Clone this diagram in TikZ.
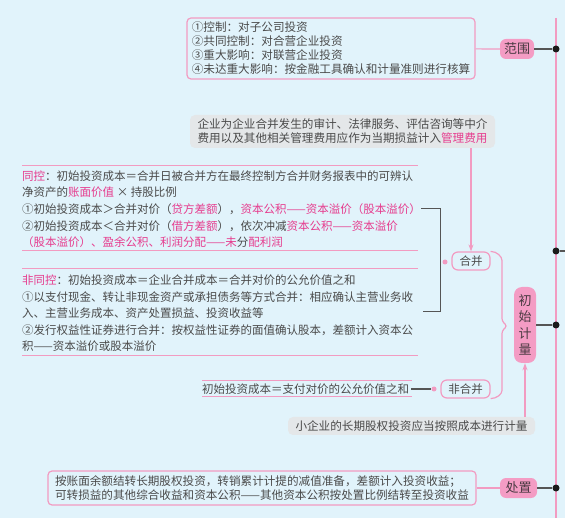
\documentclass[tikz,border=0pt]{standalone}
\usepackage{fontspec}
\setmainfont{Noto Sans CJK SC}
\usetikzlibrary{arrows.meta}
\XeTeXinterchartokenstate=1
\newcommand\cjkglue{\hskip 0pt plus 1pt\relax}
\XeTeXinterchartoks 1 1 = {\cjkglue}
\XeTeXinterchartoks 1 2 = {\cjkglue}
\XeTeXinterchartoks 1 3 = {\cjkglue}
\XeTeXinterchartoks 2 1 = {\cjkglue}
\XeTeXinterchartoks 3 1 = {\cjkglue}
\XeTeXinterchartoks 3 2 = {\cjkglue}
\XeTeXinterchartoks 3 3 = {\cjkglue}
\XeTeXinterchartoks 0 1 = {\cjkglue}
\XeTeXinterchartoks 1 0 = {\cjkglue}
\definecolor{bg}{HTML}{E1F3FB}
\definecolor{pline}{HTML}{F29BC1}
\definecolor{pfill}{HTML}{F49CC4}
\definecolor{ptext}{HTML}{E63C8E}
\definecolor{gboxc}{HTML}{E4E7E9}
\definecolor{dlinec}{HTML}{555555}
\definecolor{dotc}{HTML}{1A1A1A}
\definecolor{tgray}{HTML}{4A4A4A}
\definecolor{tagtext}{HTML}{4A3A42}
\tikzset{
  pl/.style={draw=pline, line width=1.2pt},
  plt/.style={draw=pline, line width=1pt},
  dline/.style={draw=dlinec, line width=1.1pt},
  parrow/.style={draw=pline, line width=1.2pt, -{Stealth[length=7pt,width=5pt]}},
  blackdot/.style={circle, fill=dotc, inner sep=0pt, minimum size=7pt},
  pdot/.style={circle, fill=pline, inner sep=0pt, minimum size=5pt},
  tag/.style={fill=pfill, rounded corners=6pt, inner sep=0pt, text=tagtext, font=\fontsize{13}{15}\selectfont},
  otag/.style={draw=pline, line width=1.2pt, fill=bg, rounded corners=6pt, inner sep=0pt, text=tgray, font=\fontsize{11.5}{14}\selectfont},
  pbox/.style={draw=pline, line width=1.2pt, fill=bg, rounded corners=4pt, inner sep=0pt, text=tgray, font=\fontsize{11.6}{14}\selectfont},
  gbox/.style={fill=gboxc, rounded corners=5pt, inner sep=0pt, text=tgray, font=\fontsize{11.6}{14}\selectfont},
  btxt/.style={anchor=west, inner sep=0pt, text=tgray, font=\fontsize{11.5}{14}\selectfont},
}
\newcommand\jline[1]{\makebox[396pt][s]{#1}}
\begin{document}
\begin{tikzpicture}[x=1pt,y=-1pt]
\fill[bg] (0,0) rectangle (565,518);
\useasboundingbox (0,0) rectangle (565,518);

% main axis
\draw[pl] (556,18) -- (556,518);
\node[blackdot] (d1) at (556,49) {};
\node[blackdot] (d2) at (556,251) {};
\node[blackdot] (d3) at (556,325) {};
\node[blackdot] (d4) at (556,488) {};
\coordinate (redge) at (565,251);
\draw[dline] (d2) -- (redge);

% scope
\node[tag, minimum width=34pt, minimum height=20pt] (fanwei) at (517,49) {范围};
\draw[dline] (fanwei) -- (d1);
\node[pbox, minimum width=288pt, minimum height=61pt, align=left] (fwbox) at (331,48.5)
  {①控制：对子公司投资\\②共同控制：对合营企业投资\\③重大影响：对联营企业投资\\④未达重大影响：按金融工具确认和计量准则进行核算};
\draw[pl] (fwbox) -- (fanwei);

% expenses note
\node[gbox, minimum width=305pt, minimum height=33pt, align=left] (glbox) at (342.5,131.5)
  {企业为企业合并发生的审计、法律服务、评估咨询等中介\\费用以及其他相关管理费用应作为当期损益计入\textcolor{ptext}{管理费用}};

% merger tags
\node[otag, minimum width=38pt, minimum height=18pt] (hb) at (471,261) {合并};
\node[otag, minimum width=49pt, minimum height=18pt] (fhb) at (465.5,389) {非合并};
\draw[parrow] (glbox.south -| hb) -- (hb.north);
\node[pdot] (hbdot) at (445,262) {};

% common control block
\draw[plt] (22,166) -- (418,166);
\draw[plt] (22,251) -- (418,251);
\node[btxt] (tk1) at (22,176) {\jline{\textcolor{ptext}{同控}：初始投资成本＝合并日被合并方在最终控制方合并财务报表中的可辨认}};
\node[btxt] (tk2) at (22,192) {净资产的\textcolor{ptext}{账面价值} × 持股比例};
\node[btxt] (tk3) at (22,209) {①初始投资成本＞合并对价（\textcolor{ptext}{贷方差额}），\textcolor{ptext}{资本公积——资本溢价（股本溢价）}};
\node[btxt] (tk4) at (22,226) {②初始投资成本＜合并对价（\textcolor{ptext}{借方差额}），依次冲减\textcolor{ptext}{资本公积——资本溢价}};
\node[btxt] (tk5) at (22,242) {\textcolor{ptext}{（股本溢价）、盈余公积、利润分配——未}分\textcolor{ptext}{配利润}};

% non-common control block
\draw[plt] (22,269) -- (418,269);
\draw[plt] (22,356) -- (418,356);
\node[btxt] (fk1) at (22,280) {\textcolor{ptext}{非同控}：初始投资成本＝企业合并成本＝合并对价的公允价值之和};
\node[btxt] (fk2) at (22,297) {\jline{①以支付现金、转让非现金资产或承担债务等方式合并：相应确认主营业务收}};
\node[btxt] (fk3) at (22,313) {入、主营业务成本、资产处置损益、投资收益等};
\node[btxt] (fk4) at (22,330) {\jline{②发行权益性证券进行合并：按权益性证券的面值确认股本，差额计入资本公}};
\node[btxt] (fk5) at (22,346) {积——资本溢价或股本溢价};

% bracket connector joining the two blocks
\coordinate (vx) at (440,312);
\coordinate (fjoin) at (423,312);
\draw[dline, line width=1pt] (tk3.east) -| (vx) -- (fjoin);

% non-merger line
\draw[plt] (202,381) -- (412,381);
\draw[plt] (202,397) -- (412,397);
\node[btxt] (fhtxt) at (202,389) {初始投资成本＝支付对价的公允价值之和};
\node[pdot] (fhdot) at (434,389) {};
\draw[dline] (fhtxt.east) ++(2,0) -- (fhdot);

% brace
\draw[pl, rounded corners=2.5pt] (hb.north east) to[out=0,in=90] (502,263) -- (502,321) -- (507,326) -- (502,331) -- (502,388) to[out=-90,in=0] (fhb.south east);

% initial measurement
\node[tag, minimum width=22pt, minimum height=76pt, align=center, rounded corners=8pt, font=\fontsize{13}{16.5}\selectfont] (csjl) at (525,325) {初\\始\\计\\量};
\draw[dline] (csjl) -- (d3);
\node[gbox, minimum width=247pt, minimum height=18pt] (xqy) at (411.5,426) {小企业的长期股权投资应当按照成本进行计量};
\draw[parrow] (xqy.north -| csjl) -- (csjl.south);

% disposal
\node[tag, minimum width=37pt, minimum height=20pt] (cz) at (518.5,488) {处置};
\draw[dline] (cz) -- (d4);
\node[pbox, minimum width=428pt, minimum height=34pt, align=left] (czbox) at (262,488)
  {按账面余额结转长期股权投资，转销累计计提的减值准备，差额计入投资收益；\\可转损益的其他综合收益和资本公积——其他资本公积按处置比例结转至投资收益};
\draw[pl] (czbox) -- (cz);
\end{tikzpicture}
\end{document}
